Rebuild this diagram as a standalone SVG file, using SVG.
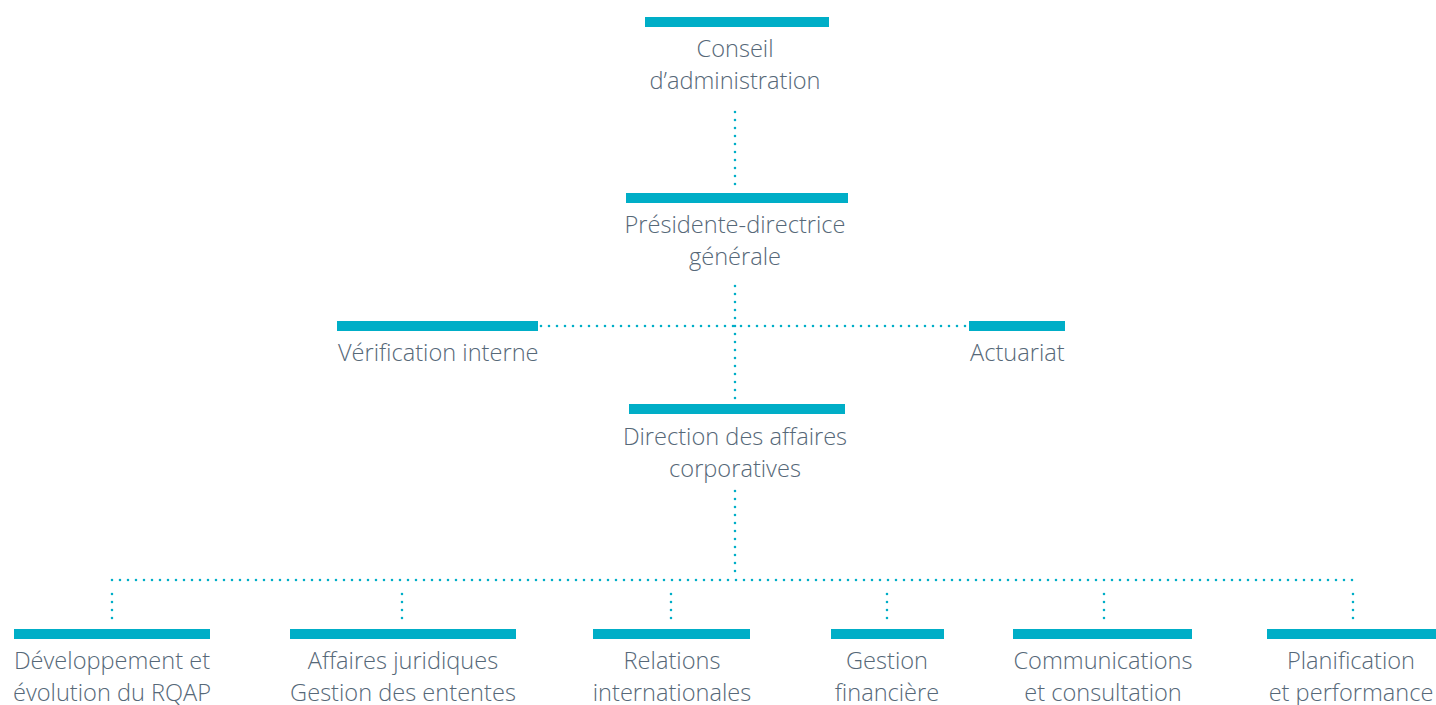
<svg xmlns="http://www.w3.org/2000/svg" width="1436" height="705" viewBox="0 0 1436 705">
<style>
.bar{fill:#00aec7}
.t{font-family:"Open Sans","Noto Sans","Liberation Sans",sans-serif;font-weight:300;font-size:23.6px;fill:#566878}
.c{text-anchor:middle}
.d{stroke:#00aec7;stroke-width:2.6;stroke-linecap:round;stroke-dasharray:0 8;fill:none}
</style>
<rect width="1436" height="705" fill="#ffffff"/>
<g id="connectors">
<path class="d" d="M735 112V190"/>
<path class="d" d="M735 286V403"/>
<path class="d" d="M541 326H966"/>
<path class="d" d="M735 491V575"/>
<path class="d" d="M112 580H1354"/>
<path class="d" d="M112 594V626"/>
<path class="d" d="M402 594V626"/>
<path class="d" d="M671 594V626"/>
<path class="d" d="M887 594V626"/>
<path class="d" d="M1104 594V626"/>
<path class="d" d="M1353 594V626"/>
</g>
<g id="conseil"><rect class="bar" x="645" y="17" width="184" height="10"/><text class="t c" x="735" y="57">Conseil</text><text class="t c" x="735" y="89">d’administration</text></g>
<g id="presidente"><rect class="bar" x="626" y="193" width="222" height="10"/><text class="t c" x="735" y="233">Présidente-directrice</text><text class="t c" x="735" y="265">générale</text></g>
<g id="verification"><rect class="bar" x="337" y="321" width="201" height="10"/><text class="t" x="338" y="361">Vérification interne</text></g>
<g id="actuariat"><rect class="bar" x="969" y="321" width="96" height="10"/><text class="t" x="970" y="361">Actuariat</text></g>
<g id="direction"><rect class="bar" x="629" y="404" width="216" height="10"/><text class="t c" x="735" y="445">Direction des affaires</text><text class="t c" x="735" y="477">corporatives</text></g>
<g id="developpement"><rect class="bar" x="14" y="629" width="196" height="10"/><text class="t c" x="112" y="669">Développement et</text><text class="t c" x="112" y="701">évolution du RQAP</text></g>
<g id="affaires"><rect class="bar" x="290" y="629" width="226" height="10"/><text class="t c" x="403" y="669">Affaires juridiques</text><text class="t c" x="403" y="701">Gestion des ententes</text></g>
<g id="relations"><rect class="bar" x="593" y="629" width="157" height="10"/><text class="t c" x="672" y="669">Relations</text><text class="t c" x="672" y="701">internationales</text></g>
<g id="gestion"><rect class="bar" x="831" y="629" width="113" height="10"/><text class="t c" x="887" y="669">Gestion</text><text class="t c" x="887" y="701">financière</text></g>
<g id="communications"><rect class="bar" x="1013" y="629" width="179" height="10"/><text class="t c" x="1103" y="669">Communications</text><text class="t c" x="1103" y="701">et consultation</text></g>
<g id="planification"><rect class="bar" x="1267" y="629" width="169" height="10"/><text class="t c" x="1351" y="669">Planification</text><text class="t c" x="1351" y="701">et performance</text></g>
</svg>
